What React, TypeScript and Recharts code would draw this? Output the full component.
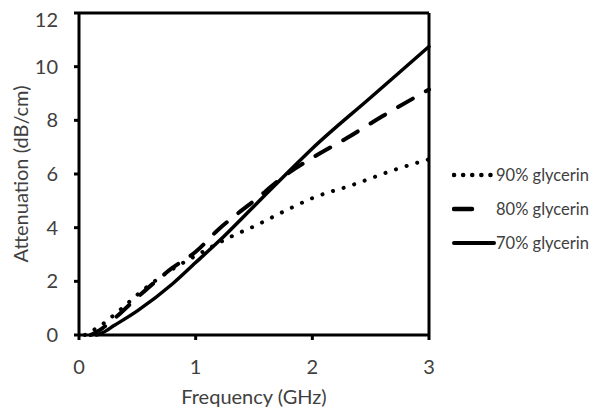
import { LineChart, Line, XAxis, YAxis, ReferenceLine } from 'recharts';

const freq90 = [0.05, 0.2, 0.35, 0.55, 0.8, 1.0, 1.3, 1.5, 1.8, 2.0, 2.35, 2.7, 3.0];
const att90 = [0, 0.4, 0.93, 1.68, 2.45, 2.95, 3.66, 4.05, 4.7, 5.1, 5.6, 6.15, 6.55];

const freq80 = [0.1, 0.2, 0.3, 0.5, 0.8, 1.0, 1.2, 1.5, 1.8, 2.0, 2.3, 2.6, 3.0];
const att80 = [0, 0.25, 0.6, 1.4, 2.5, 3.1, 3.95, 5.0, 6.05, 6.6, 7.35, 8.15, 9.15];

const freq70 = [0.15, 0.2, 0.3, 0.5, 0.8, 1.0, 1.2, 1.5, 1.8, 2.0, 2.5, 3.0];
const att70 = [0, 0.08, 0.35, 0.9, 1.9, 2.7, 3.5, 4.8, 6.1, 6.95, 8.85, 10.75];

const xTicks = [0, 1, 2, 3];
const yTicks = [0, 2, 4, 6, 8, 10, 12];

const toPoints = (xs: number[], ys: number[]) => xs.map((f, i) => ({ f, a: ys[i] }));

const SERIES = [
  { name: '90% glycerin', data: toPoints(freq90, att90), dash: '0.1 11', width: 4, legendLen: 42 },
  { name: '80% glycerin', data: toPoints(freq80, att80), dash: '17 15', width: 4, legendLen: 20 },
  { name: '70% glycerin', data: toPoints(freq70, att70), dash: undefined, width: 3.5, legendLen: 42 },
];

const FONT = 'Lato, sans-serif';
const TEXT = '#404040';

function LegendBox() {
  return (
    <div
      style={{
        position: 'absolute',
        left: 444,
        top: 150,
        width: 160,
        whiteSpace: 'nowrap',
        fontFamily: FONT,
        fontSize: 16.5,
        color: TEXT,
      }}
    >
      {SERIES.map((s) => (
        <div key={s.name} style={{ display: 'flex', alignItems: 'center', height: 34 }}>
          <svg width={44} height={10} style={{ flexShrink: 0 }}>
            <line
              x1={2}
              y1={5}
              x2={s.legendLen}
              y2={5}
              stroke="#000"
              strokeWidth={s.width + 0.5}
              strokeDasharray={s.name.startsWith('90') ? '0.1 9' : undefined}
              strokeLinecap="round"
            />
          </svg>
          <span>{s.name}</span>
        </div>
      ))}
    </div>
  );
}

export default function App() {
  return (
    <div style={{ position: 'relative', width: 593, height: 407 }}>
      <LineChart width={593} height={407} margin={{ top: 5, right: 172, left: 0, bottom: 0 }}>
        <XAxis
          type="number"
          dataKey="f"
          domain={[0, 3]}
          ticks={xTicks}
          allowDuplicatedCategory={false}
          stroke="#000"
          strokeWidth={3}
          tickSize={5}
          tickMargin={20}
          tick={{ fill: TEXT, fontSize: 20, fontFamily: FONT }}
          height={80}
          label={{ value: 'Frequency (GHz)', position: 'insideTop', offset: 55, fill: TEXT, fontSize: 20, fontFamily: FONT }}
        />
        <YAxis
          type="number"
          domain={[0, 12]}
          ticks={yTicks}
          stroke="#000"
          strokeWidth={3}
          tickSize={5}
          tickMargin={16}
          width={71}
          tick={{ fill: TEXT, fontSize: 20, fontFamily: FONT }}
          label={{ value: 'Attenuation (dB/cm)', angle: -90, position: 'insideLeft', offset: 13, fill: TEXT, fontSize: 20, fontFamily: FONT, style: { textAnchor: 'middle' } }}
        />
        <ReferenceLine y={12} stroke="#000" strokeWidth={3} />
        <ReferenceLine x={3} stroke="#000" strokeWidth={3} />
        {SERIES.map((s) => (
          <Line
            key={s.name}
            name={s.name}
            data={s.data}
            dataKey="a"
            type="monotone"
            stroke="#000"
            strokeWidth={s.width}
            strokeDasharray={s.dash}
            strokeLinecap="round"
            dot={false}
            activeDot={false}
            isAnimationActive={false}
          />
        ))}
      </LineChart>
      <LegendBox />
    </div>
  );
}
